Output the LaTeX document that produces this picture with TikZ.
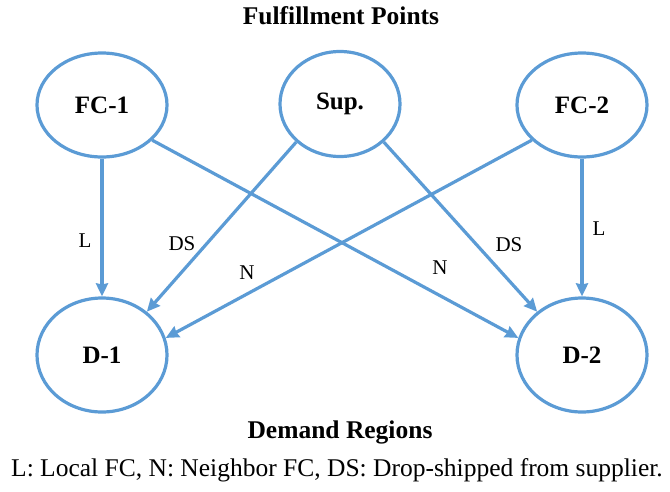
\documentclass[tikz,border=0pt]{standalone}
\usepackage{fontspec}
\setmainfont{Liberation Serif}
\usetikzlibrary{shapes.geometric,arrows.meta}
\definecolor{lineblue}{RGB}{91,155,213}
\begin{document}
\begin{tikzpicture}[x=1pt,y=-1pt,
  place/.style={ellipse,draw=lineblue,line width=3.2pt,minimum width=130pt,minimum height=104pt,inner sep=0pt,font=\fontsize{25}{29}\selectfont\bfseries},
  flow/.style={draw=lineblue,line width=3.2pt,-{Stealth[length=13pt,width=12pt,inset=1pt]}},
  lab/.style={font=\fontsize{21}{25}\selectfont},
  title/.style={font=\fontsize{25.5}{30}\selectfont\bfseries}]
\useasboundingbox (0,0) rectangle (670,491);
\node[title] (t1) at (341,16) {Fulfillment Points};
\node[place,minimum width=120pt,minimum height=105pt] (sup) at (340,104) {Sup.};
\node[place] (fc1) at (102,105) {FC-1};
\node[place] (fc2) at (582,105) {FC-2};
\node[place,minimum height=114pt] (d1) at (102,355) {D-1};
\node[place,minimum height=114pt] (d2) at (582,355) {D-2};
\node[title] (t2) at (340,432) {Demand Regions};
\node[font=\fontsize{25.5}{30}\selectfont] (leg) at (337,470) {L: Local FC, N: Neighbor FC, DS: Drop-shipped from supplier.};
\draw[flow] (fc1) -- (d1);
\draw[flow] (fc2) -- (d2);
\draw[flow] (fc1.-35) -- (d2.165);
\draw[flow] (fc2.-145) -- (d1.15);
\draw[flow] (sup.-139) -- (d1.44);
\draw[flow] (sup.-41) -- (d2.136);
\node[lab] (lL1) at (85,241) {L};
\node[lab] (lL2) at (599,229) {L};
\node[lab] (lDS1) at (182,244) {DS};
\node[lab] (lDS2) at (509,245) {DS};
\node[lab] (lN1) at (247,273) {N};
\node[lab] (lN2) at (440,268) {N};
\end{tikzpicture}
\end{document}
